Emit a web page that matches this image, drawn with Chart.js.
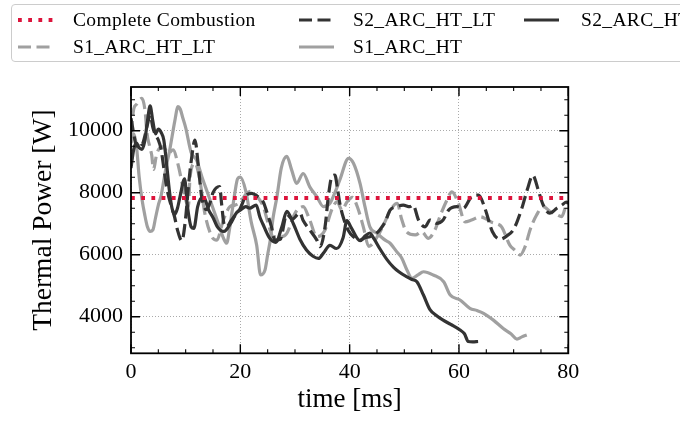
<!DOCTYPE html>
<html>
<head>
<meta charset="utf-8">
<script src="https://cdn.jsdelivr.net/npm/chart.js@4.4.1/dist/chart.umd.min.js"></script>
<style>
html,body{margin:0;padding:0;background:#fff;overflow:hidden;}
#wrap{position:relative;width:680px;height:422px;overflow:hidden;}
#legend{position:absolute;left:10.5px;top:3.5px;width:700px;height:58px;border:1px solid #cccccc;border-radius:4px;background:rgba(255,255,255,0.8);box-sizing:border-box;}
.item{position:absolute;height:24px;display:flex;align-items:center;font-family:'Liberation Serif',serif;font-size:19.5px;letter-spacing:0.35px;color:#000;white-space:nowrap;}
.handle{position:absolute;height:24px;display:flex;align-items:center;}
</style>
</head>
<body>
<div id="wrap">
<canvas id="c" width="680" height="422"></canvas>
<div id="legend"></div>
</div>
<script>
// ---------------- data ----------------
const seriesLabels = ['Complete Combustion', 'S2_ARC_HT', 'S2_ARC_HT_LT', 'S1_ARC_HT_LT', 'S1_ARC_HT'];

const timeCC = [0, 80];
const powerCC = [7830, 7830];

const timeS2HT = [0, 0.5, 1, 1.5, 2, 2.5, 3, 3.5, 4, 4.5, 5, 5.5, 6, 6.5, 7, 7.5, 8, 8.5, 9, 9.8, 10.3, 11, 11.5, 12.2, 13, 13.5, 14.2, 15, 15.8, 17, 18.2, 19.3, 20.1, 21, 21.7, 22.9, 23.6, 24.1, 25.3, 26.5, 27.6, 28.5, 29.7, 30.9, 32.1, 33.3, 34.3, 35.2, 36.4, 37.6, 38.8, 39.5, 40.2, 41.9, 42.8, 43.7, 44.5, 45.5, 46.8, 48, 49, 50.4, 51.4, 52.3, 53.5, 54.7, 55.8, 57.1, 58.5, 60.2, 61, 61.7, 62.5, 63.5];
const powerS2HT = [8800, 9400, 9600, 9450, 9400, 9650, 10300, 10800, 10300, 9900, 10050, 9950, 9700, 8950, 8100, 7500, 7300, 7500, 7900, 8450, 7600, 6900, 6850, 7550, 7850, 7800, 7450, 7200, 6900, 6750, 7000, 7350, 7450, 7550, 7500, 7600, 7200, 7000, 6550, 6400, 6900, 7400, 7000, 6500, 6150, 5950, 5880, 6050, 6300, 6200, 6550, 7100, 6900, 6450, 6600, 6700, 6500, 6200, 5850, 5600, 5450, 5290, 5200, 5130, 4700, 4230, 4050, 3890, 3750, 3570, 3450, 3200, 3190, 3200];

const timeS2HTLT = [0, 0.5, 1, 1.5, 2, 2.5, 3, 3.5, 4, 4.5, 5, 5.5, 6, 6.5, 7, 7.5, 8, 8.5, 9.3, 10, 10.5, 11, 11.7, 12.3, 12.9, 13.8, 14.5, 15, 16.2, 16.6, 17, 17.5, 18.3, 19.2, 20, 21, 22.1, 23, 24.2, 24.8, 25.7, 26.3, 27.3, 28.5, 29.5, 30.9, 31.5, 32.7, 34, 34.6, 35.5, 36.1, 36.7, 37.3, 37.8, 38.2, 38.8, 39.7, 40.7, 41.9, 42.8, 43.7, 44.6, 45.5, 46.5, 47.4, 48.6, 49.8, 51, 51.6, 52.6, 53.8, 54.7, 55.9, 57.1, 58.1, 59.6, 60.8, 62.3, 63.6, 64.8, 66.1, 67.5, 68.7, 70, 71.5, 72.5, 73.5, 74.5, 75.3, 76.6, 77.9, 78.8, 79.7, 80];
const powerS2HTLT = [10400, 9900, 9500, 9650, 9550, 9800, 10200, 10500, 10100, 9850, 9700, 9400, 8800, 8200, 7800, 7500, 7200, 6800, 6450, 7200, 8200, 9000, 9700, 8900, 7900, 7450, 7700, 8000, 8200, 7600, 7000, 6900, 7100, 7300, 7500, 7900, 7980, 7900, 7700, 7400, 6900, 6470, 6500, 7300, 7150, 7350, 7100, 6800, 6470, 6260, 6900, 7870, 8500, 8570, 8100, 7660, 7225, 6800, 6580, 6470, 6550, 6580, 6650, 6800, 7060, 7440, 7550, 7600, 7550, 7600, 7120, 6900, 7120, 7010, 7120, 7440, 7550, 7500, 7870, 7925, 7470, 6750, 6500, 6600, 6820, 7500, 8100, 8560, 8090, 7650, 7340, 7500, 7600, 7700, 7650];

const timeS1HTLT = [0, 0.5, 1, 1.6, 2, 2.6, 2.9, 3.4, 3.8, 4.1, 4.7, 5.3, 5.9, 6.8, 7.7, 8.7, 9.6, 10.5, 10.8, 11.7, 12.6, 13.5, 14.8, 15.7, 16.9, 18.1, 19, 20, 21, 22, 23, 24.2, 25.1, 26, 27.3, 28.5, 30, 31.5, 32.7, 34, 35.5, 36.7, 37.7, 38.6, 39.5, 40.5, 41.5, 42.5, 43.5, 45.1, 46.3, 47.5, 48.7, 49.5, 50.4, 52, 53.2, 54.4, 55.6, 56.5, 57.8, 58.7, 59.9, 61.1, 62.3, 63.9, 65, 66, 67, 67.8, 69.3, 70.2, 71.2, 72.1, 73, 74.2, 75.4, 76.7, 77.8, 78.8, 79.7, 80];
const powerS1HTLT = [9900, 10700, 10850, 11000, 11040, 10600, 9950, 9500, 9200, 8750, 9250, 9450, 9480, 9270, 9380, 8840, 8090, 7550, 8500, 8950, 8400, 7340, 6580, 6470, 7120, 7550, 7600, 7700, 7950, 8050, 7900, 7550, 7010, 6580, 6580, 6690, 7335, 7550, 7120, 6580, 6800, 7440, 7710, 7440, 7700, 7850, 7500, 6900, 6270, 6590, 7000, 7450, 7660, 7150, 6740, 6640, 6740, 6530, 6800, 7230, 7765, 8030, 7660, 7060, 7120, 7225, 7150, 7050, 7000, 6900, 6310, 6150, 5990, 6260, 6800, 7280, 7550, 7390, 7300, 7230, 7660, 7700];

const timeS1HT = [0, 0.5, 1, 1.5, 2, 2.5, 3, 3.5, 4, 4.5, 5, 5.5, 6, 6.5, 7, 7.5, 8, 8.6, 9, 9.5, 10, 11, 12, 13, 14, 15, 16, 17, 17.5, 18, 18.5, 19, 19.5, 20, 21, 22, 23, 23.7, 24.5, 25, 25.5, 26, 26.7, 27.5, 28.5, 29.4, 30.3, 31.5, 32.7, 34, 35.2, 36.4, 37.3, 38.2, 39.8, 40.7, 41.9, 42.8, 43.7, 45, 46.5, 47.4, 48.6, 49.5, 50.5, 51.4, 52.5, 53.5, 55.3, 57.2, 58.4, 60.2, 62, 63.3, 64.5, 66.3, 68.1, 69.5, 70.6, 71.5, 72.4];
const powerS1HT = [9600, 9900, 9500, 8500, 7800, 7300, 6900, 6750, 6800, 7200, 7600, 7900, 8400, 8900, 9300, 9800, 10300, 10780, 10700, 10400, 10100, 9300, 9050, 8500, 8000, 7500, 7000, 6500, 6370, 6800, 7400, 8000, 8450, 8500, 8050, 7050, 6300, 5350, 5500, 6000, 6500, 7200, 7870, 8800, 9170, 8730, 8300, 8620, 8190, 7870, 7550, 7660, 8000, 8410, 9110, 8950, 8300, 7550, 6900, 6690, 6470, 6370, 6100, 5900, 5500, 5240, 5350, 5450, 5345, 5130, 4700, 4540, 4270, 4200, 4110, 3890, 3620, 3450, 3280, 3350, 3410];

const xMajorTicks = [0, 20, 40, 60, 80];
const yMajorTicks = [4000, 6000, 8000, 10000];

// ---------------- styles ----------------
const DARK = '#333333', GREY = '#a0a0a0', RED = '#dc143c';
const FONT = "'Liberation Serif', 'Times New Roman', serif";
function pts(t, v) { return t.map((x, i) => ({x: x, y: v[i]})); }

const styles = [
  {color: RED, width: 3.8, dash: [3.8, 6.4]},
  {color: DARK, width: 3.2, dash: []},
  {color: DARK, width: 3.2, dash: [13, 5.5]},
  {color: GREY, width: 3.2, dash: [13, 5.5]},
  {color: GREY, width: 3.2, dash: []}
];
const seriesData = [
  pts(timeCC, powerCC),
  pts(timeS2HT, powerS2HT),
  pts(timeS2HTLT, powerS2HTLT),
  pts(timeS1HTLT, powerS1HTLT),
  pts(timeS1HT, powerS1HT)
];

const datasets = seriesLabels.map((lab, i) => ({
  label: lab,
  data: seriesData[i],
  borderColor: styles[i].color,
  backgroundColor: styles[i].color,
  borderWidth: styles[i].width,
  borderDash: styles[i].dash,
  borderCapStyle: 'butt',
  borderJoinStyle: 'round',
  cubicInterpolationMode: i === 0 ? 'default' : 'monotone',
  pointRadius: 0,
  fill: false
}));

// inward ticks + frame, computed through the chart scales
const framePlugin = {
  id: 'frame',
  afterDraw(chart) {
    const {ctx, chartArea: a, scales: {x, y}} = chart;
    ctx.save();
    ctx.strokeStyle = '#000';
    const drawX = (v, len, w) => {
      const px = x.getPixelForValue(v);
      ctx.lineWidth = w;
      ctx.beginPath();
      ctx.moveTo(px, a.bottom); ctx.lineTo(px, a.bottom - len);
      ctx.moveTo(px, a.top); ctx.lineTo(px, a.top + len);
      ctx.stroke();
    };
    const drawY = (v, len, w) => {
      const py = y.getPixelForValue(v);
      ctx.lineWidth = w;
      ctx.beginPath();
      ctx.moveTo(a.left, py); ctx.lineTo(a.left + len, py);
      ctx.moveTo(a.right, py); ctx.lineTo(a.right - len, py);
      ctx.stroke();
    };
    for (let v = x.min; v <= x.max + 1e-9; v += 5) {
      if (xMajorTicks.indexOf(v) >= 0) drawX(v, 9, 1.4); else drawX(v, 4, 1.1);
    }
    for (let v = Math.ceil(y.min / 500) * 500; v <= y.max; v += 500) {
      if (yMajorTicks.indexOf(v) >= 0) drawY(v, 9, 1.4); else drawY(v, 4, 1.1);
    }
    ctx.lineWidth = 1.8;
    ctx.strokeRect(a.left, a.top, a.right - a.left, a.bottom - a.top);
    ctx.restore();
  }
};

const chart = new Chart(document.getElementById('c').getContext('2d'), {
  type: 'line',
  data: {datasets: datasets},
  options: {
    responsive: false,
    animation: false,
    devicePixelRatio: 1,
    layout: {padding: {left: 0, top: 87, right: 111.7, bottom: 0}},
    plugins: {legend: {display: false}, tooltip: {enabled: false}},
    scales: {
      x: {
        type: 'linear', min: 0, max: 80,
        afterFit(s) { s.height = 68.7; },
        afterBuildTicks(s) { s.ticks = xMajorTicks.map(v => ({value: v})); },
        ticks: {color: '#000', font: {family: FONT, size: 22}, padding: 6, maxRotation: 0, autoSkip: false},
        grid: {color: '#aaaaaa', lineWidth: 1, drawTicks: false},
        border: {display: false, dash: [1, 2]},
        title: {display: true, text: 'time [ms]', color: '#000', font: {family: FONT, size: 27}, padding: {top: 0, bottom: 6}}
      },
      y: {
        type: 'linear', min: 2820, max: 11410,
        afterFit(s) { s.width = 131; },
        afterBuildTicks(s) { s.ticks = yMajorTicks.map(v => ({value: v})); },
        ticks: {color: '#000', font: {family: FONT, size: 22}, padding: 8, autoSkip: false, callback: v => String(v)},
        grid: {color: '#aaaaaa', lineWidth: 1, drawTicks: false},
        border: {display: false, dash: [1, 2]},
        title: {display: true, text: 'Thermal Power [W]', color: '#000', font: {family: FONT, size: 27.5}, padding: {top: 27.5, bottom: 0}}
      }
    }
  },
  plugins: [framePlugin]
});

// ---------------- HTML legend (matplotlib ncol=3 layout) ----------------
const legendSlots = {
  'Complete Combustion': [0, 0],
  'S2_ARC_HT_LT': [1, 0],
  'S2_ARC_HT': [2, 0],
  'S1_ARC_HT_LT': [0, 1],
  'S1_ARC_HT': [1, 1]
};
const colHandleX = [18, 299, 524];
const colTextX = [73, 353, 581];
const rowCenterY = [20, 47];
const legendEl = document.getElementById('legend');
const L0 = 10.5, T0 = 3.5;
chart.data.datasets.forEach(ds => {
  const slot = legendSlots[ds.label];
  const top = rowCenterY[slot[1]] - 12 - T0 - 1;
  const h = document.createElement('div');
  h.className = 'handle';
  h.style.left = (colHandleX[slot[0]] - L0 - 1) + 'px';
  h.style.top = top + 'px';
  const dash = ds.borderDash && ds.borderDash.length ? ds.borderDash.join(' ') : 'none';
  h.innerHTML = '<svg width="35" height="8"><line x1="0" y1="4" x2="35" y2="4" stroke="' + ds.borderColor +
    '" stroke-width="' + ds.borderWidth + '" stroke-dasharray="' + dash + '"/></svg>';
  legendEl.appendChild(h);
  const t = document.createElement('div');
  t.className = 'item';
  t.style.left = (colTextX[slot[0]] - L0 - 1) + 'px';
  t.style.top = top + 'px';
  t.textContent = ds.label;
  legendEl.appendChild(t);
});
</script>
</body>
</html>
